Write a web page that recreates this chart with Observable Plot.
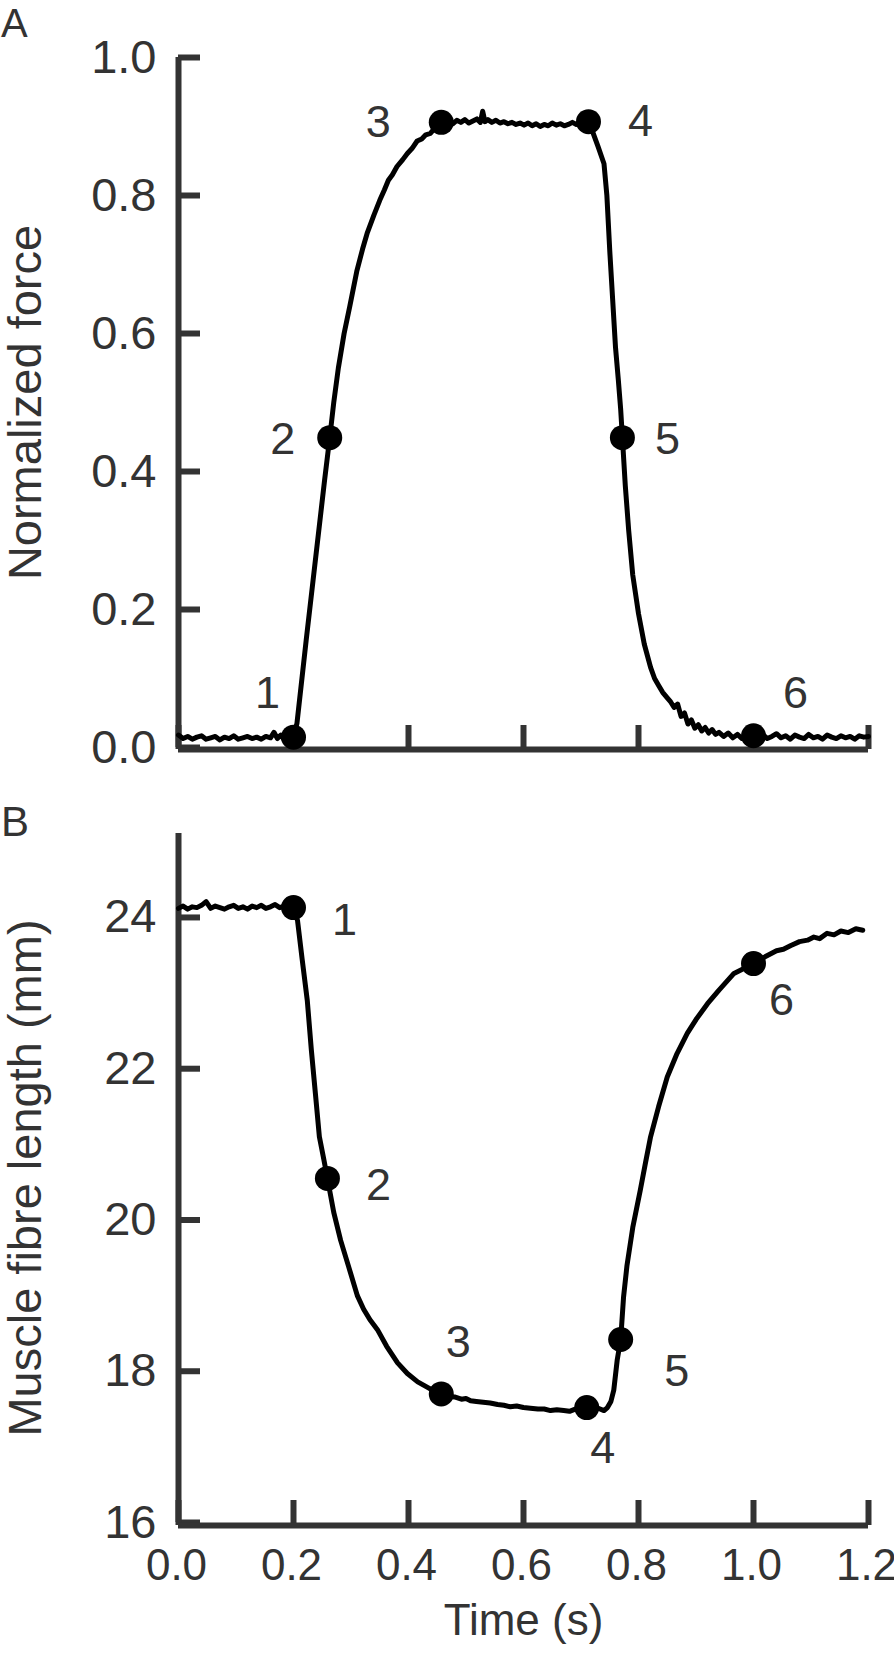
<!DOCTYPE html>
<html><head><meta charset="utf-8">
<script src="https://cdn.jsdelivr.net/npm/d3@7"></script>
<script src="https://cdn.jsdelivr.net/npm/@observablehq/plot@0.6"></script>
<style>
body{margin:0;background:#fff;}
#wrap{position:relative;width:894px;height:1653px;font-family:'Liberation Sans',Arial,Helvetica,sans-serif;color:#333;}
.panel{position:absolute;left:0;z-index:2;}
svg{display:block}
</style></head><body>
<div id="wrap"><div class="panel" style="top:3px;left:1px;font-size:40px;line-height:40px">A</div><div class="panel" style="top:801px;left:1px;font-size:42px;line-height:42px">B</div></div>
<script>
// ---------- DATA ----------
const pointLabels = ["1","2","3","4","5","6"];
const timeTicks = [0, 0.2, 0.4, 0.6, 0.8, 1.0, 1.2];
const forceTicks = [0, 0.2, 0.4, 0.6, 0.8, 1.0];
const lengthTicks = [16, 18, 20, 22, 24];

// Panel A: normalized force trace
const timeForce = [
  0.000,0.008,0.016,0.024,0.032,0.040,0.048,0.056,0.064,0.072,0.080,0.088,0.096,0.104,0.112,0.120,0.128,0.136,0.144,0.152,0.160,0.166,0.172,0.178,0.184,0.190,0.196,0.200,
  0.206,0.222,0.234,0.254,0.263,0.270,0.278,0.288,0.298,0.310,0.320,0.328,0.340,0.350,0.358,0.365,0.372,0.380,0.390,0.398,0.406,0.415,0.423,0.430,0.438,0.445,0.450,0.457,
  0.463,0.470,0.477,0.484,0.491,0.498,0.505,0.512,0.519,0.525,0.529,0.533,0.538,0.545,0.552,0.559,0.566,0.573,0.580,0.587,0.594,0.601,0.608,0.615,0.622,0.629,0.636,0.643,0.650,0.657,0.664,0.671,0.678,0.685,0.692,0.699,0.706,0.713,
  0.720,0.730,0.740,0.745,0.750,0.755,0.760,0.765,0.769,0.772,0.777,0.783,0.790,0.800,0.810,0.821,0.828,0.835,0.842,0.850,0.856,0.862,0.868,0.874,0.880,0.886,0.892,0.898,0.904,0.910,0.916,0.922,0.928,0.934,0.940,
  0.948,0.956,0.964,0.972,0.980,0.988,0.996,1.000,1.008,1.016,1.024,1.032,1.040,1.048,1.056,1.064,1.072,1.080,1.088,1.096,1.104,1.112,1.120,1.128,1.136,1.144,1.152,1.160,1.168,1.176,1.184,1.192,1.200
];
const force = [
  0.018,0.013,0.016,0.012,0.015,0.017,0.012,0.014,0.016,0.011,0.015,0.013,0.017,0.012,0.014,0.016,0.013,0.015,0.012,0.016,0.014,0.022,0.013,0.018,0.011,0.017,0.015,0.015,
  0.035,0.155,0.242,0.387,0.449,0.500,0.550,0.600,0.640,0.690,0.722,0.745,0.772,0.793,0.808,0.822,0.830,0.842,0.852,0.861,0.868,0.879,0.882,0.888,0.890,0.897,0.899,0.906,
  0.905,0.908,0.904,0.909,0.906,0.910,0.905,0.908,0.911,0.906,0.922,0.907,0.910,0.906,0.909,0.905,0.907,0.904,0.906,0.903,0.905,0.902,0.905,0.901,0.904,0.900,0.903,0.901,0.905,0.902,0.904,0.901,0.903,0.906,0.903,0.905,0.904,0.907,
  0.893,0.870,0.846,0.800,0.720,0.650,0.580,0.532,0.490,0.449,0.380,0.314,0.250,0.194,0.150,0.116,0.100,0.090,0.080,0.072,0.066,0.058,0.063,0.045,0.050,0.034,0.040,0.028,0.033,0.024,0.029,0.021,0.026,0.019,0.022,
  0.016,0.021,0.014,0.019,0.013,0.018,0.015,0.017,0.014,0.019,0.013,0.016,0.020,0.014,0.017,0.012,0.018,0.015,0.013,0.019,0.014,0.016,0.012,0.018,0.015,0.013,0.017,0.014,0.016,0.012,0.017,0.015,0.016
];
const dotTimeA = [0.200, 0.263, 0.457, 0.713, 0.772, 1.000];
const dotForce = [0.015, 0.449, 0.906, 0.907, 0.449, 0.017];

// Panel B: muscle fibre length trace (mm)
const timeLength = [
  0.000,0.008,0.016,0.024,0.032,0.040,0.048,0.056,0.064,0.072,0.080,0.088,0.096,0.104,0.112,0.120,0.128,0.136,0.144,0.152,0.160,0.168,0.176,0.184,0.192,0.200,
  0.203,0.207,0.215,0.224,0.231,0.238,0.245,0.252,0.259,0.270,0.282,0.296,0.311,0.322,0.333,0.346,0.362,0.381,0.398,0.416,0.437,0.457,
  0.468,0.480,0.492,0.500,0.508,0.518,0.530,0.542,0.555,0.566,0.577,0.588,0.600,0.612,0.625,0.636,0.647,0.658,0.670,0.680,0.690,0.700,0.710,
  0.720,0.730,0.740,0.746,0.752,0.757,0.763,0.769,0.774,0.780,0.790,0.803,0.812,0.821,0.835,0.850,0.867,0.885,0.900,0.920,0.940,0.966,0.985,1.000,1.020,1.040,1.052,1.065,1.080,1.094,1.105,1.115,1.128,1.140,1.152,1.165,1.178,1.190
];
const fibreLength = [
  24.12,24.15,24.11,24.14,24.13,24.16,24.21,24.12,24.15,24.13,24.11,24.14,24.16,24.12,24.14,24.11,24.15,24.13,24.16,24.12,24.14,24.17,24.13,24.15,24.14,24.13,
  24.05,23.96,23.45,22.90,22.25,21.68,21.10,20.83,20.55,20.10,19.73,19.38,19.00,18.82,18.68,18.55,18.33,18.11,17.97,17.86,17.77,17.70,
  17.67,17.66,17.63,17.64,17.61,17.60,17.59,17.58,17.56,17.55,17.53,17.54,17.52,17.51,17.50,17.50,17.48,17.49,17.48,17.47,17.50,17.49,17.52,
  17.49,17.51,17.48,17.52,17.60,17.75,18.15,18.42,18.98,19.40,19.90,20.39,20.75,21.10,21.50,21.89,22.20,22.47,22.65,22.86,23.04,23.26,23.33,23.39,23.48,23.56,23.58,23.63,23.68,23.70,23.74,23.72,23.79,23.77,23.82,23.80,23.85,23.83
];
const dotTimeB = [0.200, 0.259, 0.457, 0.710, 0.769, 1.000];
const dotLength = [24.13, 20.55, 17.70, 17.52, 18.42, 23.39];

// ---------- CHART ----------
const font = "'Liberation Sans', Arial, Helvetica, sans-serif";
const axisColor = "#333";
const style = {fontSize: "44px", fontFamily: font, color: axisColor, background: "white", overflow: "visible"};

// label offsets (px) from each dot — styling only
const labelShiftA = [[-26,-44],[-47,2],[-63,0],[52,0],[45,2],[42,-42]];
const labelShiftB = [[51,13],[51,7],[17,-51],[16,41],[56,32],[28,37]];

const seriesA = timeForce.map((t, i) => ({t, v: force[i]}));
const dotsA = dotTimeA.map((t, i) => ({t, v: dotForce[i], label: pointLabels[i]}));
const seriesB = timeLength.map((t, i) => ({t, v: fibreLength[i]}));
const dotsB = dotTimeB.map((t, i) => ({t, v: dotLength[i], label: pointLabels[i]}));

const labelMarks = (dots, shifts) => dots.map((d, i) =>
  Plot.text([d], {x: "t", y: "v", text: "label", dx: shifts[i][0], dy: shifts[i][1], fill: axisColor, fontSize: 45}));

const plotA = Plot.plot({
  width: 894, height: 790,
  marginTop: 57, marginBottom: 43, marginLeft: 178, marginRight: 26,
  x: {domain: [0, 1.2]},
  y: {domain: [0, 1]},
  style,
  marks: [
    Plot.axisY(forceTicks, {tickSize: -22, strokeWidth: 6, stroke: axisColor, fill: "none", label: null}),
    Plot.axisY(forceTicks, {tickSize: 0, tickPadding: 22, tickFormat: d3.format(".1f"), label: "Normalized force", labelAnchor: "center", labelOffset: 171, labelArrow: "none", fontSize: 47}),
    Plot.axisX(timeTicks, {tickSize: -24, strokeWidth: 6, stroke: axisColor, fill: "none", label: null, dy: 2}),
    Plot.ruleX([0], {stroke: axisColor, strokeWidth: 6}),
    Plot.ruleY([0], {stroke: axisColor, strokeWidth: 6, dy: 2}),
    Plot.line(seriesA, {x: "t", y: "v", stroke: "black", strokeWidth: 5, strokeLinejoin: "round", strokeLinecap: "round"}),
    Plot.dot(dotsA, {x: "t", y: "v", r: 12.5, fill: "black"}),
    ...labelMarks(dotsA, labelShiftA)
  ]
});

const plotB = Plot.plot({
  width: 894, height: 863,
  marginTop: 43, marginBottom: 131, marginLeft: 178, marginRight: 26,
  x: {domain: [0, 1.2]},
  y: {domain: [16, 25.11]},
  style,
  marks: [
    Plot.axisY(lengthTicks, {tickSize: -22, strokeWidth: 6, stroke: axisColor, fill: "none", label: null}),
    Plot.axisY(lengthTicks, {tickSize: 0, tickPadding: 22, tickFormat: d3.format("d"), label: "Muscle fibre length (mm)", labelAnchor: "center", labelOffset: 171, labelArrow: "none", fontSize: 47}),
    Plot.axisX(timeTicks, {tickSize: -25, strokeWidth: 6, stroke: axisColor, fill: "none", label: null, dy: 3}),
    Plot.axisX(timeTicks, {tickSize: 0, tickPadding: 26, tickFormat: d3.format(".1f"), label: "Time (s)", labelAnchor: "center", labelOffset: 112, labelArrow: "none", dx: -2}),
    Plot.ruleX([0], {stroke: axisColor, strokeWidth: 6}),
    Plot.ruleY([16], {stroke: axisColor, strokeWidth: 6, dy: 3}),
    Plot.line(seriesB, {x: "t", y: "v", stroke: "black", strokeWidth: 5, strokeLinejoin: "round", strokeLinecap: "round"}),
    Plot.dot(dotsB, {x: "t", y: "v", r: 12.5, fill: "black"}),
    ...labelMarks(dotsB, labelShiftB)
  ]
});

const wrap = document.getElementById("wrap");
wrap.appendChild(plotA);
wrap.appendChild(plotB);
</script>
</body></html>
